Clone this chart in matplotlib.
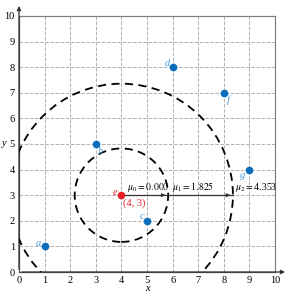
import numpy as np
import matplotlib.pyplot as plt
from matplotlib.patches import Circle

plt.rcParams['font.family'] = ['Liberation Serif', 'DejaVu Serif']
plt.rcParams['mathtext.fontset'] = 'stix'

names = ['a', 'b', 'c', 'd', 'f', 'g']
xs = [1, 3, 5, 6, 8, 9]
ys = [1, 5, 2, 8, 7, 4]
label_off = [(-0.25, 0.13), (0.17, -0.3), (-0.2, 0.15), (-0.22, 0.16), (0.18, -0.3), (-0.25, -0.25)]
center = (4, 3)
radii = [0.000, 1.825, 4.353]

fig = plt.figure(figsize=(2.91, 2.94), dpi=100)
ax = fig.add_axes([0.0653, 0.0748, 0.880, 0.871])
ax.set_xlim(0, 10)
ax.set_ylim(0, 10)
ax.set_xticks(range(11))
ax.set_yticks(range(11))
ax.tick_params(length=0, labelsize=7.5, pad=3)
ax.grid(True, ls='--', color='#b0b0b0', lw=0.7)
ax.set_axisbelow(True)
for s in ['top', 'right']:
    ax.spines[s].set_color('#808080')
    ax.spines[s].set_linewidth(0.9)
for s in ['left', 'bottom']:
    ax.spines[s].set_color('#555555')
    ax.spines[s].set_linewidth(0.9)

# axis arrows
ax.annotate('', xy=(10.5, 0), xytext=(0, 0), annotation_clip=False,
            arrowprops=dict(arrowstyle='-|>', color='#333333', lw=0.9, mutation_scale=6))
ax.annotate('', xy=(0, 10.5), xytext=(0, 0), annotation_clip=False,
            arrowprops=dict(arrowstyle='-|>', color='#333333', lw=0.9, mutation_scale=6))
ax.text(5, -0.66, 'x', style='italic', fontsize=7.5, ha='center', va='center', clip_on=False)
ax.text(-0.57, 5, 'y', style='italic', fontsize=7.5, ha='center', va='center', clip_on=False)

# circles
for r in radii[1:]:
    ax.add_patch(Circle(center, r, fill=False, ls=(0, (4.5, 3)), lw=1.3, color='black', zorder=3))

# radius line with arrows
ax.plot([center[0], center[0] + radii[2]], [center[1], center[1]], color='#333333', lw=0.9, zorder=3)
for r in radii[1:]:
    ax.annotate('', xy=(center[0] + r, center[1]), xytext=(center[0] + r - 0.3, center[1]),
                arrowprops=dict(arrowstyle='-|>', color='#333333', lw=0.8, mutation_scale=5), zorder=4)

ax.text(center[0] + 0.2, center[1] + 0.04, r'$\mu_0 = 0.000$', fontsize=7, va='bottom', ha='left', zorder=5)
ax.text(center[0] + radii[1] + 0.15, center[1] + 0.04, r'$\mu_1 = 1.825$', fontsize=7, va='bottom', ha='left', zorder=5)
ax.text(center[0] + radii[2] + 0.1, center[1] + 0.04, r'$\mu_2 = $' + '4.353', fontsize=7, va='bottom', ha='left', zorder=5)

# points
ax.plot(xs, ys, 'o', color='#0a6ebd', ms=4.5, zorder=6)
for n, x, y, (dx, dy) in zip(names, xs, ys, label_off):
    ax.text(x + dx, y + dy, n, color='#4a9bd8', style='italic', fontsize=7.5, ha='center', va='center', zorder=6)

ax.plot([center[0]], [center[1]], 'o', color='#e8202a', ms=4.5, zorder=6)
ax.text(center[0] - 0.25, center[1] + 0.12, 'e', color='#e8202a', style='italic', fontsize=7.5, ha='center', va='center', zorder=6)
ax.text(center[0] + 0.05, center[1] - 0.33, '(4, 3)', color='#e8202a', fontsize=7.5, ha='left', va='center', zorder=6)

fig.savefig('out.png', dpi=100)
